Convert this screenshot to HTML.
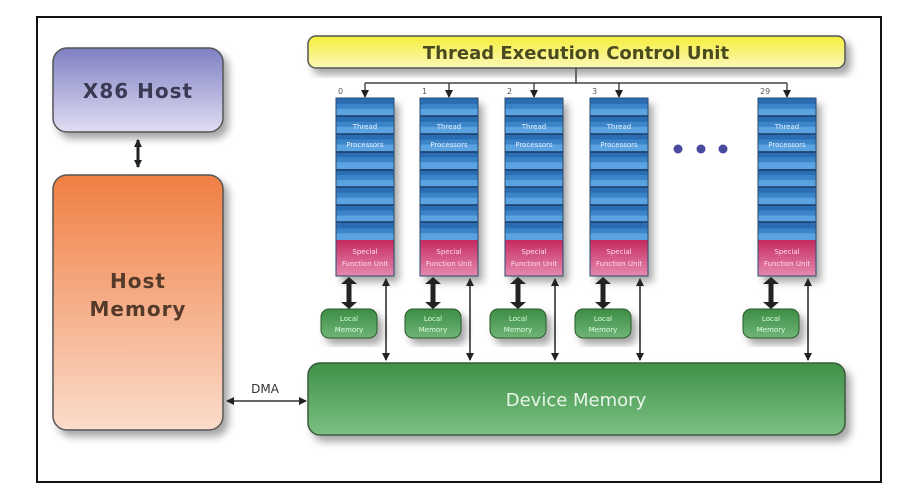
<!DOCTYPE html>
<html><head><meta charset="utf-8"><style>
html,body{margin:0;padding:0;background:#fff;}
svg{display:block;}
text{font-family:"DejaVu Sans","Liberation Sans",sans-serif;}
</style></head><body>
<svg width="901" height="500" viewBox="0 0 901 500" xmlns="http://www.w3.org/2000/svg">
<defs>
<linearGradient id="gx" x1="0" y1="0" x2="0" y2="1"><stop offset="0" stop-color="#7f80c4"/><stop offset="1" stop-color="#e0def2"/></linearGradient>
<linearGradient id="gh" x1="0" y1="0" x2="0" y2="1"><stop offset="0" stop-color="#f07f43"/><stop offset="1" stop-color="#fbdccb"/></linearGradient>
<linearGradient id="gy" x1="0" y1="0" x2="0" y2="1"><stop offset="0" stop-color="#f5ee3a"/><stop offset="1" stop-color="#fbf8b8"/></linearGradient>
<linearGradient id="gd" x1="0" y1="0" x2="0" y2="1"><stop offset="0" stop-color="#3f9148"/><stop offset="1" stop-color="#7cc083"/></linearGradient>
<linearGradient id="gp" x1="0" y1="0" x2="0" y2="1"><stop offset="0" stop-color="#c52a5f"/><stop offset="1" stop-color="#e58ab0"/></linearGradient>
<linearGradient id="gl" x1="0" y1="0" x2="0" y2="1"><stop offset="0" stop-color="#3d8d45"/><stop offset="1" stop-color="#6fb578"/></linearGradient>
<pattern id="rows" x="0" y="98" width="58" height="17.75" patternUnits="userSpaceOnUse">
<rect width="58" height="17.75" fill="#3a84c8"/>
<rect y="0" width="58" height="6" fill="#2a6db2"/>
<rect y="11" width="58" height="6.75" fill="#5aa3e0"/>
</pattern>
<filter id="sh" x="-20%" y="-20%" width="150%" height="150%"><feDropShadow dx="5" dy="6" stdDeviation="4" flood-color="#000" flood-opacity="0.35"/></filter>
<marker id="ah" markerWidth="8" markerHeight="8" refX="7" refY="4" orient="auto" markerUnits="userSpaceOnUse"><path d="M0,0 L8,4 L0,8 Z" fill="#222"/></marker>
<marker id="ahs" markerWidth="8" markerHeight="8" refX="1" refY="4" orient="auto" markerUnits="userSpaceOnUse"><path d="M8,0 L0,4 L8,8 Z" fill="#222"/></marker>
</defs>
<rect x="37" y="17" width="844" height="465" fill="#fff" stroke="#111" stroke-width="2"/>

<rect x="53" y="48" width="170" height="84" rx="14" fill="url(#gx)" stroke="#555" stroke-width="1.5" filter="url(#sh)"/>
<text x="138" y="98" font-size="20" font-weight="bold" text-anchor="middle" fill="#3a3a55" letter-spacing="1">X86 Host</text>
<rect x="53" y="175" width="170" height="255" rx="14" fill="url(#gh)" stroke="#555" stroke-width="1.5" filter="url(#sh)"/>
<text x="138" y="288" font-size="20" font-weight="bold" text-anchor="middle" fill="#553a2a" letter-spacing="1">Host</text>
<text x="138" y="316" font-size="20" font-weight="bold" text-anchor="middle" fill="#553a2a" letter-spacing="1">Memory</text>
<line x1="138" y1="140" x2="138" y2="167" stroke="#222" stroke-width="3" marker-end="url(#ah)" marker-start="url(#ahs)"/>

<rect x="308" y="36" width="537" height="32" rx="8" fill="url(#gy)" stroke="#555" stroke-width="1.5" filter="url(#sh)"/>
<text x="576" y="59" font-size="18" font-weight="bold" text-anchor="middle" fill="#4a4a20">Thread Execution Control Unit</text>
<rect x="308" y="363" width="537" height="72" rx="12" fill="url(#gd)" stroke="#3a5a3a" stroke-width="1.5" filter="url(#sh)"/>
<text x="576" y="406" font-size="18" text-anchor="middle" fill="#e8f4e8">Device Memory</text>

<line x1="227" y1="401" x2="306" y2="401" stroke="#333" stroke-width="1.5" marker-end="url(#ah)" marker-start="url(#ahs)"/>
<text x="265" y="393" font-size="12" text-anchor="middle" fill="#333">DMA</text>

<path d="M576 68 V83 M365 83 H787" stroke="#444" stroke-width="1.5" fill="none"/>

<circle cx="678" cy="149" r="4.5" fill="#4a4aa0"/><circle cx="701" cy="149" r="4.5" fill="#4a4aa0"/><circle cx="723" cy="149" r="4.5" fill="#4a4aa0"/>

<g font-size="7" fill="#e8f0ff" text-anchor="middle">
<g transform="translate(336,0)">
<line x1="29" y1="83" x2="29" y2="97" stroke="#333" stroke-width="1.3" marker-end="url(#ah)"/>
<text x="2" y="94" font-size="8" fill="#555" text-anchor="start">0</text>
<g filter="url(#sh)"><rect x="0" y="98" width="58" height="142" fill="url(#rows)"/><rect x="0" y="240" width="58" height="36" fill="url(#gp)"/></g>
<path d="M0 116H58M0 134H58M0 152H58M0 170H58M0 187H58M0 205H58M0 222H58" stroke="#1a3d66" stroke-width="1.5"/>
<rect x="0" y="98" width="58" height="178" fill="none" stroke="#2a4a70" stroke-width="1"/>
<text x="29" y="129">Thread</text><text x="29" y="147">Processors</text>
<text x="29" y="254" fill="#fde">Special</text><text x="29" y="266" fill="#fde">Function Unit</text>
<line x1="13" y1="280" x2="13" y2="306" stroke="#222" stroke-width="5"/>
<path d="M5 284 L13 277 L21 284Z M5 302 L13 309 L21 302Z" fill="#222"/>
<line x1="50" y1="279" x2="50" y2="360" stroke="#222" stroke-width="1.5" marker-end="url(#ah)" marker-start="url(#ahs)"/>
<g filter="url(#sh)"><rect x="-15" y="309" width="56" height="29" rx="8" fill="url(#gl)" stroke="#2a5a2a"/></g>
<text x="13" y="321" fill="#dfd">Local</text><text x="13" y="332" fill="#dfd">Memory</text>
</g>
<g transform="translate(420,0)">
<line x1="29" y1="83" x2="29" y2="97" stroke="#333" stroke-width="1.3" marker-end="url(#ah)"/>
<text x="2" y="94" font-size="8" fill="#555" text-anchor="start">1</text>
<g filter="url(#sh)"><rect x="0" y="98" width="58" height="142" fill="url(#rows)"/><rect x="0" y="240" width="58" height="36" fill="url(#gp)"/></g>
<path d="M0 116H58M0 134H58M0 152H58M0 170H58M0 187H58M0 205H58M0 222H58" stroke="#1a3d66" stroke-width="1.5"/>
<rect x="0" y="98" width="58" height="178" fill="none" stroke="#2a4a70" stroke-width="1"/>
<text x="29" y="129">Thread</text><text x="29" y="147">Processors</text>
<text x="29" y="254" fill="#fde">Special</text><text x="29" y="266" fill="#fde">Function Unit</text>
<line x1="13" y1="280" x2="13" y2="306" stroke="#222" stroke-width="5"/>
<path d="M5 284 L13 277 L21 284Z M5 302 L13 309 L21 302Z" fill="#222"/>
<line x1="50" y1="279" x2="50" y2="360" stroke="#222" stroke-width="1.5" marker-end="url(#ah)" marker-start="url(#ahs)"/>
<g filter="url(#sh)"><rect x="-15" y="309" width="56" height="29" rx="8" fill="url(#gl)" stroke="#2a5a2a"/></g>
<text x="13" y="321" fill="#dfd">Local</text><text x="13" y="332" fill="#dfd">Memory</text>
</g>
<g transform="translate(505,0)">
<line x1="29" y1="83" x2="29" y2="97" stroke="#333" stroke-width="1.3" marker-end="url(#ah)"/>
<text x="2" y="94" font-size="8" fill="#555" text-anchor="start">2</text>
<g filter="url(#sh)"><rect x="0" y="98" width="58" height="142" fill="url(#rows)"/><rect x="0" y="240" width="58" height="36" fill="url(#gp)"/></g>
<path d="M0 116H58M0 134H58M0 152H58M0 170H58M0 187H58M0 205H58M0 222H58" stroke="#1a3d66" stroke-width="1.5"/>
<rect x="0" y="98" width="58" height="178" fill="none" stroke="#2a4a70" stroke-width="1"/>
<text x="29" y="129">Thread</text><text x="29" y="147">Processors</text>
<text x="29" y="254" fill="#fde">Special</text><text x="29" y="266" fill="#fde">Function Unit</text>
<line x1="13" y1="280" x2="13" y2="306" stroke="#222" stroke-width="5"/>
<path d="M5 284 L13 277 L21 284Z M5 302 L13 309 L21 302Z" fill="#222"/>
<line x1="50" y1="279" x2="50" y2="360" stroke="#222" stroke-width="1.5" marker-end="url(#ah)" marker-start="url(#ahs)"/>
<g filter="url(#sh)"><rect x="-15" y="309" width="56" height="29" rx="8" fill="url(#gl)" stroke="#2a5a2a"/></g>
<text x="13" y="321" fill="#dfd">Local</text><text x="13" y="332" fill="#dfd">Memory</text>
</g>
<g transform="translate(590,0)">
<line x1="29" y1="83" x2="29" y2="97" stroke="#333" stroke-width="1.3" marker-end="url(#ah)"/>
<text x="2" y="94" font-size="8" fill="#555" text-anchor="start">3</text>
<g filter="url(#sh)"><rect x="0" y="98" width="58" height="142" fill="url(#rows)"/><rect x="0" y="240" width="58" height="36" fill="url(#gp)"/></g>
<path d="M0 116H58M0 134H58M0 152H58M0 170H58M0 187H58M0 205H58M0 222H58" stroke="#1a3d66" stroke-width="1.5"/>
<rect x="0" y="98" width="58" height="178" fill="none" stroke="#2a4a70" stroke-width="1"/>
<text x="29" y="129">Thread</text><text x="29" y="147">Processors</text>
<text x="29" y="254" fill="#fde">Special</text><text x="29" y="266" fill="#fde">Function Unit</text>
<line x1="13" y1="280" x2="13" y2="306" stroke="#222" stroke-width="5"/>
<path d="M5 284 L13 277 L21 284Z M5 302 L13 309 L21 302Z" fill="#222"/>
<line x1="50" y1="279" x2="50" y2="360" stroke="#222" stroke-width="1.5" marker-end="url(#ah)" marker-start="url(#ahs)"/>
<g filter="url(#sh)"><rect x="-15" y="309" width="56" height="29" rx="8" fill="url(#gl)" stroke="#2a5a2a"/></g>
<text x="13" y="321" fill="#dfd">Local</text><text x="13" y="332" fill="#dfd">Memory</text>
</g>
<g transform="translate(758,0)">
<line x1="29" y1="83" x2="29" y2="97" stroke="#333" stroke-width="1.3" marker-end="url(#ah)"/>
<text x="2" y="94" font-size="8" fill="#555" text-anchor="start">29</text>
<g filter="url(#sh)"><rect x="0" y="98" width="58" height="142" fill="url(#rows)"/><rect x="0" y="240" width="58" height="36" fill="url(#gp)"/></g>
<path d="M0 116H58M0 134H58M0 152H58M0 170H58M0 187H58M0 205H58M0 222H58" stroke="#1a3d66" stroke-width="1.5"/>
<rect x="0" y="98" width="58" height="178" fill="none" stroke="#2a4a70" stroke-width="1"/>
<text x="29" y="129">Thread</text><text x="29" y="147">Processors</text>
<text x="29" y="254" fill="#fde">Special</text><text x="29" y="266" fill="#fde">Function Unit</text>
<line x1="13" y1="280" x2="13" y2="306" stroke="#222" stroke-width="5"/>
<path d="M5 284 L13 277 L21 284Z M5 302 L13 309 L21 302Z" fill="#222"/>
<line x1="50" y1="279" x2="50" y2="360" stroke="#222" stroke-width="1.5" marker-end="url(#ah)" marker-start="url(#ahs)"/>
<g filter="url(#sh)"><rect x="-15" y="309" width="56" height="29" rx="8" fill="url(#gl)" stroke="#2a5a2a"/></g>
<text x="13" y="321" fill="#dfd">Local</text><text x="13" y="332" fill="#dfd">Memory</text>
</g>
</g>
</svg>
</body></html>
